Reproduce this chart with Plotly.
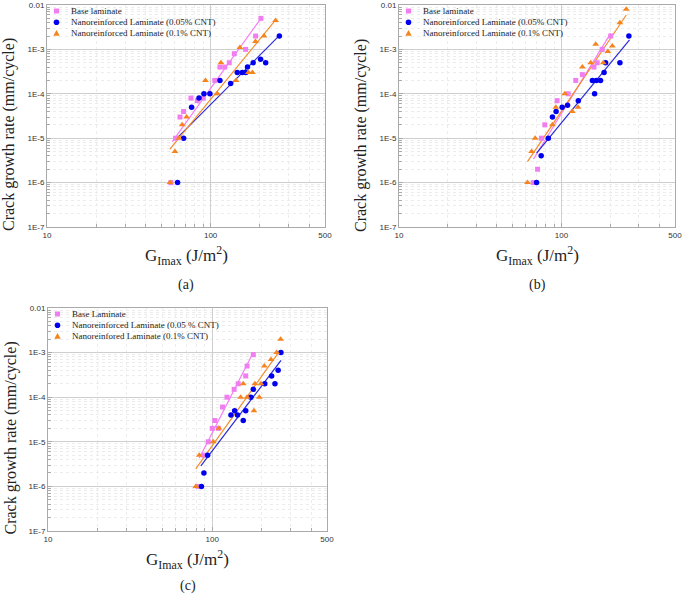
import plotly.graph_objects as go

W, H = 685, 594

# ---------------- data ----------------
# Panel (a)
a_base_G = [57.2, 61.1, 65.0, 68.4, 75.8, 82.9, 90.2, 106, 114, 122, 130, 139.5, 163.6, 188.4, 203]
a_base_r = [1e-6, 1e-5, 3e-5, 4e-5, 8e-5, 7e-5, 8e-5, 2e-4, 4e-4, 4e-4, 5e-4, 8e-4, 1e-3, 2e-3, 5e-3]
a_c05_G = [62.8, 68.4, 76.5, 84.9, 91.0, 99.0, 114, 132.5, 145.5, 156, 164, 168, 182, 202, 217, 263]
a_c05_r = [1e-6, 1e-5, 5e-5, 8e-5, 1e-4, 1e-4, 2e-4, 1.7e-4, 3e-4, 3e-4, 3e-4, 4e-4, 5e-4, 6e-4, 5e-4, 2e-3]
a_c10_G = [56.5, 60.5, 64, 67, 71.3, 93, 110, 115.6, 143, 151, 170, 180, 188, 212, 249.5]
a_c10_r = [1e-6, 5e-6, 1e-5, 2e-5, 3e-5, 2e-4, 1e-4, 5e-4, 2e-4, 1.1e-3, 3e-4, 3e-4, 1.5e-3, 2e-3, 4.5e-3]
a_fit_base_G, a_fit_base_r = [58.3, 203], [8.4e-6, 5.0e-3]
a_fit_c05_G, a_fit_c05_r = [62.8, 262.8], [1.03e-5, 2.04e-3]
a_fit_c10_G, a_fit_c10_r = [56.4, 249.5], [5.7e-6, 4.6e-3]

# Panel (b)
b_base_G = [67, 71.3, 75.3, 79, 94, 110, 122.5, 134.5, 158.5, 166, 178, 201]
b_base_r = [1e-6, 2e-6, 1e-5, 2e-5, 7e-5, 1e-4, 2e-4, 2.7e-4, 4e-4, 5e-4, 1e-3, 2e-3]
b_c05_G = [70.3, 75, 83, 88, 92.7, 101, 109, 127, 155, 160, 164, 174, 183, 187, 229, 260]
b_c05_r = [1e-6, 4e-6, 1e-5, 3e-5, 4e-5, 5e-5, 5.5e-5, 7e-5, 2e-4, 1e-4, 2e-4, 2e-4, 3e-4, 5e-4, 5e-4, 2e-3]
b_c10_G = [61.8, 65.5, 68.9, 88, 92.3, 105, 116.6, 126.4, 134.5, 151.4, 162.5, 181, 193, 205.6, 229, 250.5]
b_c10_r = [1e-6, 5e-6, 1e-5, 2e-5, 5e-5, 1e-4, 4e-5, 5e-5, 4e-4, 5e-4, 1.3e-3, 5e-4, 9e-4, 1.2e-3, 4e-3, 8e-3]
b_fit_base_G, b_fit_base_r = [67.3, 200.8], [3.4e-6, 2.3e-3]
b_fit_c05_G, b_fit_c05_r = [70.3, 262.4], [4.6e-6, 1.63e-3]
b_fit_c10_G, b_fit_c10_r = [61.8, 250.6], [2.96e-6, 5.96e-3]

# Panel (c)
c_base_G = [82, 89, 94.6, 100, 103.8, 109, 115.6, 123, 136, 144, 160, 163, 178]
c_base_r = [1e-6, 5e-6, 1e-5, 2e-5, 3e-5, 2e-5, 6e-5, 1e-4, 1.5e-4, 2e-4, 3e-4, 5e-4, 9e-4]
c_c05_G = [86, 89, 93.7, 130, 137, 142.6, 154.5, 160, 172, 178, 209, 230, 241, 252, 262]
c_c05_r = [1e-6, 2e-6, 5e-6, 4e-5, 5e-5, 4e-5, 3e-5, 5e-5, 1e-4, 1.5e-4, 2e-4, 3e-4, 2e-4, 4e-4, 1e-3]
c_c10_G = [79.5, 83.4, 101.4, 109.9, 149, 154.5, 163, 179.5, 182, 193.5, 198, 207.6, 228, 246.6, 261]
c_c10_r = [1e-6, 5e-6, 1e-5, 2e-5, 1e-4, 2e-4, 1e-4, 5e-5, 2e-4, 1e-4, 2e-4, 5e-4, 7e-4, 1e-3, 2e-3]
c_fit_base_G, c_fit_base_r = [83.4, 177.8], [4.3e-6, 1.0e-3]
c_fit_c05_G, c_fit_c05_r = [85.3, 262.4], [2.9e-6, 6.7e-4]
c_fit_c10_G, c_fit_c10_r = [79.4, 258.8], [2.47e-6, 1.12e-3]

legend_ab = ["Base laminate", "Nanoreinforced Laminate (0.05% CNT)", "Nanoreinforced Laminate (0.1% CNT)"]
legend_c = ["Base Laminate", "Nanoreinforced Laminate (0.05 % CNT)", "Nanoreinfored Laminate (0.1% CNT)"]
panel_labels = ["(a)", "(b)", "(c)"]

y_tickvals = [1e-7, 1e-6, 1e-5, 1e-4, 1e-3, 1e-2]
y_ticktext = ["1E-7", "1E-6", "1E-5", "1E-4", "1E-3", "0.01"]
x_tickvals = [10, 100, 500]
x_ticktext = ["10", "100", "500"]

# ---------------- styling ----------------
PINK = "#f07ef0"
PINK_LINE = "#f77cf7"
BLUE = "#0000ee"
BLUE_LINE = "#2a2ad8"
ORANGE = "#f6841c"
ORANGE_LINE = "#f58a2a"
SERIF = "Liberation Serif"
SANS = "Liberation Sans"

# panel plot-area boxes in pixels: (left, right, top, bottom)
boxes = [(47, 325, 5, 227), (399, 675, 5, 227), (48, 327, 308, 531)]
label_y = [285, 285, 586]

panels = [
    (a_base_G, a_base_r, a_c05_G, a_c05_r, a_c10_G, a_c10_r,
     a_fit_base_G, a_fit_base_r, a_fit_c05_G, a_fit_c05_r, a_fit_c10_G, a_fit_c10_r, legend_ab),
    (b_base_G, b_base_r, b_c05_G, b_c05_r, b_c10_G, b_c10_r,
     b_fit_base_G, b_fit_base_r, b_fit_c05_G, b_fit_c05_r, b_fit_c10_G, b_fit_c10_r, legend_ab),
    (c_base_G, c_base_r, c_c05_G, c_c05_r, c_c10_G, c_c10_r,
     c_fit_base_G, c_fit_base_r, c_fit_c05_G, c_fit_c05_r, c_fit_c10_G, c_fit_c10_r, legend_c),
]

x_minor = [k * 10 for k in range(2, 10)] + [200, 300, 400]
y_minor = [k * 10.0 ** e for e in range(-7, -2) for k in range(2, 10)]


def px(x):
    return x / W


def py(y):
    return 1 - y / H


fig = go.Figure()
annotations = []
shapes = []

for i, (p, box) in enumerate(zip(panels, boxes)):
    (bG, br, c5G, c5r, c1G, c1r, fbG, fbr, f5G, f5r, f1G, f1r, leg) = p
    xa = "x" if i == 0 else f"x{i+1}"
    ya = "y" if i == 0 else f"y{i+1}"
    common = dict(xaxis=xa, yaxis=ya, showlegend=False, hoverinfo="skip")
    # fit lines
    fig.add_trace(go.Scatter(x=fbG, y=fbr, mode="lines", line=dict(color=PINK_LINE, width=1.2), **common))
    fig.add_trace(go.Scatter(x=f5G, y=f5r, mode="lines", line=dict(color=BLUE_LINE, width=1.2), **common))
    fig.add_trace(go.Scatter(x=f1G, y=f1r, mode="lines", line=dict(color=ORANGE_LINE, width=1.2), **common))
    # points
    fig.add_trace(go.Scatter(x=bG, y=br, mode="markers",
                             marker=dict(symbol="square", size=5, color=PINK), **common))
    fig.add_trace(go.Scatter(x=c5G, y=c5r, mode="markers",
                             marker=dict(symbol="circle", size=5.5, color=BLUE), **common))
    fig.add_trace(go.Scatter(x=c1G, y=c1r, mode="markers",
                             marker=dict(symbol="triangle-up", size=6, color=ORANGE), **common))

    l, r, t, b = box
    axkey = "" if i == 0 else str(i + 1)
    fig.update_layout(**{
        f"xaxis{axkey}": dict(
            type="log", range=[1, 2.69897], domain=[px(l), px(r)],
            anchor=ya, tickvals=x_tickvals, ticktext=x_ticktext,
            tickfont=dict(family=SANS, size=8, color="#333"),
            ticklabeloverflow="allow",
            showline=True, mirror=True, linecolor="#aaaaaa", linewidth=1,
            ticks="inside", ticklen=4, tickcolor="#aaaaaa",
            showgrid=True, gridcolor="#cfcfcf", gridwidth=1, zeroline=False,
            minor=dict(tickvals=x_minor, showgrid=True, gridcolor="#ececec",
                       griddash="dot", gridwidth=1, ticks="inside", ticklen=3,
                       tickcolor="#aaaaaa"),
            automargin=False, fixedrange=True,
        ),
        f"yaxis{axkey}": dict(
            type="log", range=[-7, -2], domain=[py(b), py(t)],
            anchor=xa, tickvals=y_tickvals, ticktext=y_ticktext,
            tickfont=dict(family=SANS, size=8, color="#333"),
            showline=True, mirror=True, linecolor="#aaaaaa", linewidth=1,
            ticks="inside", ticklen=4, tickcolor="#aaaaaa",
            showgrid=True, gridcolor="#cfcfcf", gridwidth=1, zeroline=False,
            minor=dict(tickvals=y_minor, showgrid=True, gridcolor="#ececec",
                       griddash="dot", gridwidth=1, ticks="inside", ticklen=3,
                       tickcolor="#aaaaaa"),
            automargin=False, fixedrange=True,
        ),
    })

    cx = (l + r) / 2
    # x-axis title
    annotations.append(dict(
        text="G<sub>Imax</sub> (J/m<sup>2</sup>)", xref="paper", yref="paper",
        x=px(cx), y=py(b + 28), xanchor="center", yanchor="middle", showarrow=False,
        font=dict(family=SERIF, size=17, color="#222")))
    # y-axis title
    annotations.append(dict(
        text="Crack growth rate (mm/cycle)", xref="paper", yref="paper",
        x=px(l - 38), y=py((t + b) / 2 + 19), xanchor="center", yanchor="middle",
        textangle=-90, showarrow=False,
        font=dict(family=SERIF, size=16, color="#222")))
    # panel label
    annotations.append(dict(
        text=panel_labels[i], xref="paper", yref="paper",
        x=px(cx), y=py(label_y[i]), xanchor="center", yanchor="middle", showarrow=False,
        font=dict(family=SERIF, size=14, color="#222")))

    # legend (manual, compact)
    mx = l + 9.5
    tx = l + 21.5
    rows = [t + 6, t + 17.3, t + 28.3]
    kinds = ["square", "circle", "triangle"]
    colors = [PINK, BLUE, ORANGE]
    for k in range(3):
        annotations.append(dict(
            text=leg[k], xref="paper", yref="paper", x=px(tx), y=py(rows[k]),
            xanchor="left", yanchor="middle", showarrow=False,
            font=dict(family=SERIF, size=9, color="#222")))
        base = dict(xref="paper", yref="paper", xsizemode="pixel", ysizemode="pixel",
                    xanchor=px(mx), yanchor=py(rows[k]),
                    fillcolor=colors[k], line=dict(width=0))
        if kinds[k] == "square":
            shapes.append(dict(type="rect", x0=-2.5, x1=2.5, y0=-2.5, y1=2.5, **base))
        elif kinds[k] == "circle":
            shapes.append(dict(type="circle", x0=-2.8, x1=2.8, y0=-2.8, y1=2.8, **base))
        else:
            shapes.append(dict(type="path", path="M -3.2,-2.4 L 3.2,-2.4 L 0,3.2 Z", **base))

fig.update_layout(
    width=W, height=H, margin=dict(l=0, r=0, t=0, b=0),
    paper_bgcolor="white", plot_bgcolor="white",
    annotations=annotations, shapes=shapes, showlegend=False,
)

fig.write_html(
    "out.html",
    config={"displayModeBar": False, "staticPlot": True},
    post_script="document.body.style.margin='0px';document.body.style.overflow='hidden';",
)
